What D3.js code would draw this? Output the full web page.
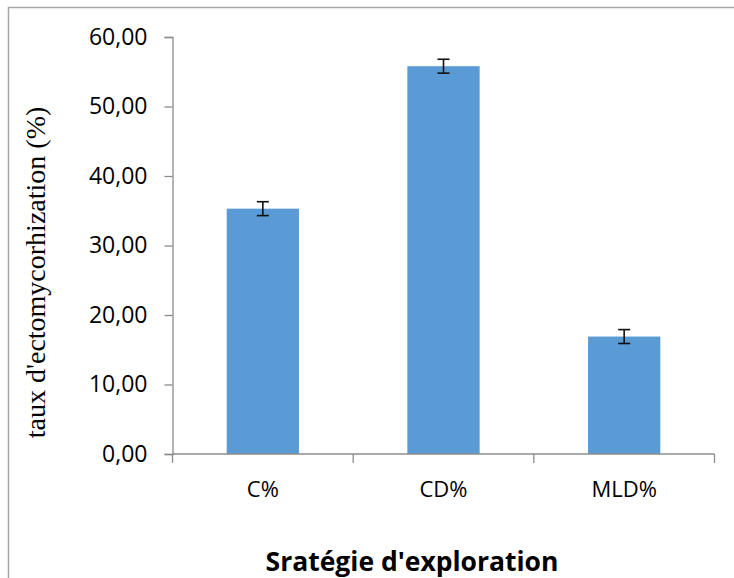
<!DOCTYPE html>
<html>
<head>
<meta charset="utf-8">
<script src="https://cdn.jsdelivr.net/npm/d3@7/dist/d3.min.js"></script>
<style>
  html, body { margin: 0; padding: 0; background: #fff; }
  svg { display: block; }
</style>
</head>
<body>
<svg id="chart" width="734" height="578"></svg>
<script>
const categories = ["C%", "CD%", "MLD%"];
const values = [35.3, 55.8, 16.9];
const errors = [1.0, 1.0, 1.0];
const yTicks = [0, 10, 20, 30, 40, 50, 60];
const yLabel = "taux d'ectomycorhization (%)";
const xLabel = "Sratégie d'exploration";

const svg = d3.select("#chart");

// chart area border
svg.append("rect")
  .attr("x", 8.5).attr("y", 7.5)
  .attr("width", 900).attr("height", 900)
  .attr("fill", "#fff")
  .attr("stroke", "#a6a6a6")
  .attr("stroke-width", 1.5);

const plotLeft = 172.5, plotRight = 714.5, plotTop = 37, plotBottom = 454;

const x = d3.scaleBand()
  .domain(categories)
  .range([plotLeft, plotRight])
  .paddingInner(0.6)
  .paddingOuter(0.3);

const y = d3.scaleLinear()
  .domain([0, 60])
  .range([plotBottom, plotTop]);

const fmt = v => d3.format(".2f")(v).replace(".", ",");

// bars
svg.append("g").selectAll("rect")
  .data(categories)
  .join("rect")
  .attr("x", d => x(d))
  .attr("y", (d, i) => y(values[i]))
  .attr("width", x.bandwidth())
  .attr("height", (d, i) => y(0) - y(values[i]))
  .attr("fill", "#5b9bd5");

// y axis
const yAxis = svg.append("g")
  .attr("transform", `translate(${plotLeft},0)`)
  .call(d3.axisLeft(y).tickValues(yTicks).tickFormat(fmt).tickSize(8).tickPadding(17));
yAxis.select(".domain").attr("stroke", "#8c8c8c").attr("stroke-width", 1.3);
yAxis.selectAll(".tick line").attr("stroke", "#8c8c8c").attr("stroke-width", 1.3);
yAxis.selectAll(".tick text")
  .attr("font-family", "'Open Sans', sans-serif")
  .attr("font-size", 23)
  .attr("fill", "#000");

// x axis with ticks at band boundaries
const xAxisG = svg.append("g");
xAxisG.append("line")
  .attr("x1", plotLeft).attr("x2", plotRight)
  .attr("y1", plotBottom).attr("y2", plotBottom)
  .attr("stroke", "#8c8c8c").attr("stroke-width", 1.3);
const step = x.step();
const boundaries = d3.range(categories.length + 1).map(i => plotLeft + i * step);
xAxisG.selectAll("line.bt")
  .data(boundaries)
  .join("line")
  .attr("class", "bt")
  .attr("x1", d => d).attr("x2", d => d)
  .attr("y1", plotBottom).attr("y2", plotBottom + 9)
  .attr("stroke", "#8c8c8c").attr("stroke-width", 1.3);
xAxisG.selectAll("text")
  .data(categories)
  .join("text")
  .attr("x", d => x(d) + x.bandwidth() / 2)
  .attr("y", 497)
  .attr("text-anchor", "middle")
  .attr("font-family", "'Open Sans', sans-serif")
  .attr("font-size", 22)
  .attr("fill", "#000")
  .text(d => d);

// error bars
const eb = svg.append("g").attr("stroke", "#111").attr("stroke-width", 1.6);
categories.forEach((c, i) => {
  const cx = x(c) + x.bandwidth() / 2;
  const y1 = y(values[i] + errors[i]);
  const y2 = y(values[i] - errors[i]);
  eb.append("line").attr("x1", cx).attr("x2", cx).attr("y1", y1).attr("y2", y2);
  eb.append("line").attr("x1", cx - 6).attr("x2", cx + 6).attr("y1", y1).attr("y2", y1);
  eb.append("line").attr("x1", cx - 6).attr("x2", cx + 6).attr("y1", y2).attr("y2", y2);
});

// y label
svg.append("text")
  .attr("transform", `translate(45, ${(plotTop + plotBottom) / 2 + 27}) rotate(-90)`)
  .attr("text-anchor", "middle")
  .attr("font-family", "'Liberation Serif', 'Times New Roman', serif")
  .attr("font-size", 28)
  .attr("fill", "#000")
  .text(yLabel);

// x label
svg.append("text")
  .attr("x", 412)
  .attr("y", 571)
  .attr("text-anchor", "middle")
  .attr("font-family", "'Open Sans', sans-serif")
  .attr("font-weight", "bold")
  .attr("font-size", 26.5)
  .attr("fill", "#000")
  .text(xLabel);
</script>
</body>
</html>
